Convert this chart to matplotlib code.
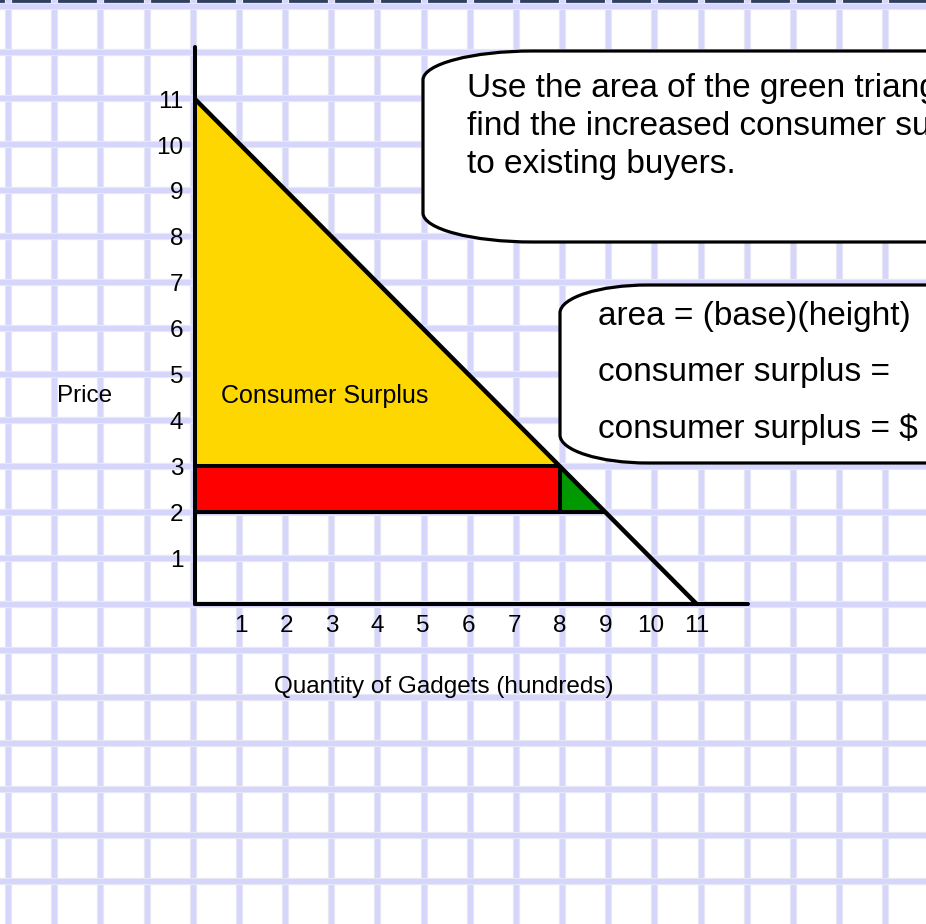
#!/usr/bin/env python3
"""Consumer surplus on graph paper: price falls from 3 to 2."""

import matplotlib
matplotlib.use("Agg")
import matplotlib.pyplot as plt
from matplotlib.path import Path
from matplotlib.patches import PathPatch

# Chart values
demand_qty = [0, 11]
demand_price = [11, 0]
old_price = 3
new_price = 2
old_qty = 8
new_qty = 9
tick_values = list(range(1, 12))
tick_labels = [str(v) for v in tick_values]

top_note = ["Use the area of the green triangle to",
            "find the increased consumer surplus",
            "to existing buyers."]
formula_note = ["area = (base)(height)",
                "consumer surplus =",
                "consumer surplus = $"]

W, H = 926, 924
plt.rcParams['font.family'] = ['Liberation Sans', 'DejaVu Sans']

fig = plt.figure(figsize=(W / 100, H / 100), dpi=100)

# background graph paper, pixel coordinates
bg = fig.add_axes([0, 0, 1, 1], zorder=0)
bg.set_xlim(0, W)
bg.set_ylim(H, 0)
bg.axis('off')
grid_col = '#d6d6fc'
x = 8.0
while x < W + 10:
    bg.axvline(x, color='#ececf4', lw=5.2)
    bg.axvline(x, color=grid_col, lw=3.8)
    x += 46.17
y = 5.5
while y < H + 10:
    bg.axhline(y, color='#ececf4', lw=5.2)
    bg.axhline(y, color=grid_col, lw=3.8)
    y += 46.07
bg.axhspan(0, 3.5, color='#2f3f5e')

# the diagram itself
x0, y0 = 195, 604          # origin in pixels
px_x, px_y = 45.6, 45.9    # pixels per unit
len_x, len_y = 748 - x0, y0 - 47
ax = fig.add_axes([x0 / W, (H - y0) / H, len_x / W, len_y / H], zorder=1)
ax.patch.set_alpha(0)
ax.set_xlim(0, len_x / px_x)
ax.set_ylim(0, len_y / px_y)
for s in ['top', 'right']:
    ax.spines[s].set_visible(False)
for s in ['left', 'bottom']:
    ax.spines[s].set_linewidth(2.9)
    ax.spines[s].set_capstyle('round')

ax.fill([0, 0, old_qty], [max(demand_price), old_price, old_price],
        color='#ffd700', lw=0)
ax.fill([0, old_qty, old_qty, 0], [new_price, new_price, old_price, old_price],
        color='#ff0000', lw=0)
ax.fill([old_qty, old_qty, new_qty], [old_price, new_price, new_price],
        color='#009900', lw=0)
lk = dict(color='black', lw=2.9, solid_capstyle='butt')
ax.plot([0, old_qty], [old_price, old_price], **lk)
ax.plot([0, new_qty], [new_price, new_price], **lk)
ax.plot([old_qty, old_qty], [new_price, old_price], **lk)
ax.plot(demand_qty, demand_price, color='black', lw=3.2, solid_capstyle='butt')

ax.set_xticks(tick_values)
ax.set_xticklabels(tick_labels)
ax.set_yticks(tick_values)
ax.set_yticklabels(tick_labels)
ax.tick_params(length=0, labelsize=17.5)
ax.tick_params(axis='x', pad=8)
ax.tick_params(axis='y', pad=8.5)

ax.set_xlabel('Quantity of Gadgets (hundreds)', fontsize=17.5)
ax.xaxis.set_label_coords((444 - x0) / len_x, (y0 - 687) / len_y)
ax.xaxis.label.set_va('center')
ax.set_ylabel('Price', fontsize=17.5, rotation=0, ha='center', va='center')
ax.yaxis.set_label_coords((85 - x0) / len_x, (y0 - 396) / len_y)
ax.text(0.57, 4.53, 'Consumer Surplus', fontsize=18, va='center')

# callout boxes, pixel coordinates
ov = fig.add_axes([0, 0, 1, 1], zorder=2)
ov.patch.set_alpha(0)
ov.set_xlim(0, W)
ov.set_ylim(H, 0)
ov.axis('off')


def callout(left, top, bottom, rx, ry):
    right = W + 20
    k = 0.552
    verts = [(right, top), (left + rx, top),
             (left + rx - k * rx, top), (left, top + ry - k * ry), (left, top + ry),
             (left, bottom - ry),
             (left, bottom - ry + k * ry), (left + rx - k * rx, bottom), (left + rx, bottom),
             (right, bottom), (right, top)]
    codes = [Path.MOVETO, Path.LINETO,
             Path.CURVE4, Path.CURVE4, Path.CURVE4,
             Path.LINETO,
             Path.CURVE4, Path.CURVE4, Path.CURVE4,
             Path.LINETO, Path.CLOSEPOLY]
    ov.add_patch(PathPatch(Path(verts, codes), facecolor='white',
                           edgecolor='black', lw=2.3))


callout(423, 51, 242, 110, 29)
callout(560, 285, 463, 88, 28)

for i, line in enumerate(top_note):
    ov.text(467, 97 + 38 * i, line, fontsize=24, va='baseline')
for i, line in enumerate(formula_note):
    ov.text(598, 325 + 56.5 * i, line, fontsize=24, va='baseline')

fig.savefig('out.png', dpi=100)
